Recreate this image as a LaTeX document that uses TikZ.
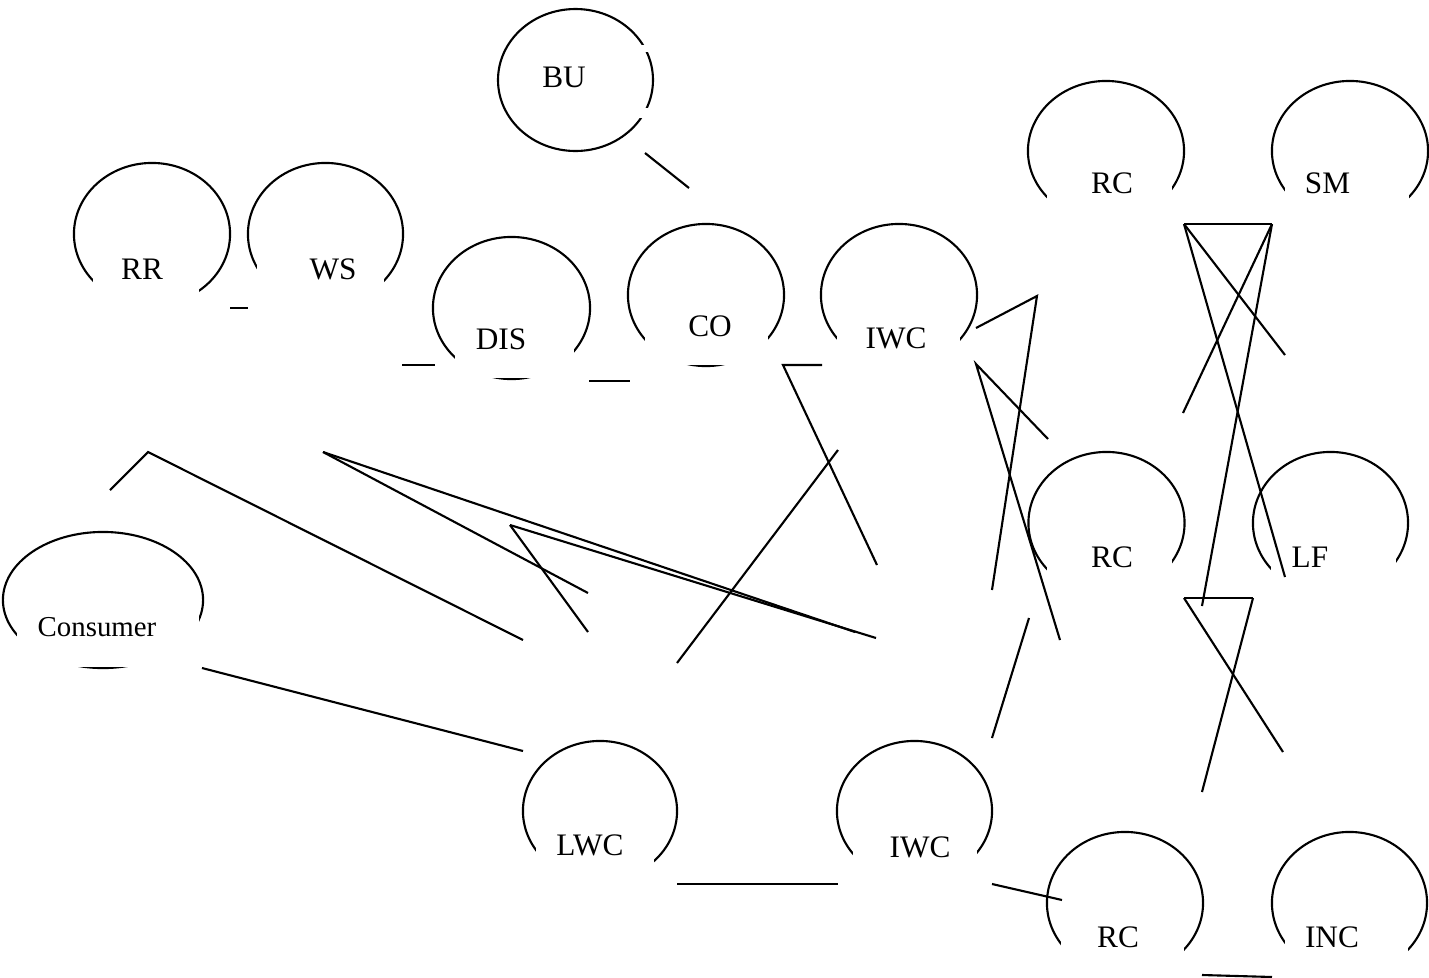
\documentclass[tikz,border=0pt]{standalone}
\usepackage{fontspec}
\setmainfont{Liberation Serif}
\usetikzlibrary{shapes.geometric}
\begin{document}
\begin{tikzpicture}[x=0.01cm,y=-0.01cm,
  ell/.style={draw, ellipse, inner sep=0pt, outer sep=0pt, line width=0.6pt},
  lbl/.style={inner sep=0pt, font=\fontsize{8.9}{10}\selectfont},
  conn/.style={line width=0.6pt},
  mask/.style={fill=white, draw=none}]
\useasboundingbox (0,0) rectangle (1429,978);
% name, cx, cy, rx, ry, xl, xr, yb
\newcommand\openell[8]{%
  \node[ell, minimum width=#4*0.02cm, minimum height=#5*0.02cm] (#1) at (#2,#3) {};
  \path[mask] (#6,#3) rectangle (#7,#8);}
% BU (closed, two small gaps)
\node[ell, minimum width=155*0.01cm, minimum height=142*0.01cm] (bu) at (575.5,80) {};
\path[mask] (636,45) rectangle (656,52);
\path[mask] (632,108) rectangle (656,118);
\openell{rr}{152}{234}{78}{71}{93}{199}{310}
\openell{ws}{325.5}{234}{77.5}{71}{257}{384}{310}
\openell{dis}{511.5}{308}{78.5}{71}{455}{574}{378.2}
\openell{co}{706}{295}{78}{71}{645}{768}{365.3}
\openell{iwca}{899}{295}{78}{71}{837}{960}{370}
\openell{rca}{1106}{151}{78}{70}{1047}{1172}{225}
\openell{sm}{1350}{151}{78}{70}{1285}{1409}{225}
\openell{rcb}{1106.5}{523}{78}{71}{1047}{1172}{597}
\openell{lf}{1330.5}{523}{77.5}{71}{1271}{1396}{597}
\openell{cons}{103}{600}{100}{68}{17}{199}{667.2}
\openell{lwc}{600}{811}{77}{70}{536}{654}{885}
\openell{iwcb}{914.5}{811}{77.5}{70}{853}{977}{885}
\openell{rcc}{1125}{903}{78}{71}{1061}{1184}{978}
\openell{inc}{1349.5}{903}{77.5}{71}{1285}{1408}{978}
% labels
\node[lbl] (bu-l) at (564,77.5) {BU};
\node[lbl] (rr-l) at (142,269) {RR};
\node[lbl] (ws-l) at (333,269) {WS};
\node[lbl] (dis-l) at (501,339) {DIS};
\node[lbl] (co-l) at (710,326) {CO};
\node[lbl] (iwca-l) at (896,338) {IWC};
\node[lbl] (rca-l) at (1112,183) {RC};
\node[lbl] (sm-l) at (1327.5,183) {SM};
\node[lbl] (rcb-l) at (1112,557) {RC};
\node[lbl] (lf-l) at (1310,557) {LF};
\node[lbl, font=\fontsize{8.2}{10}\selectfont] (cons-l) at (97,627.5) {Consumer};
\node[lbl] (lwc-l) at (590,845) {LWC};
\node[lbl] (iwcb-l) at (920,847.5) {IWC};
\node[lbl] (rcc-l) at (1118,937.5) {RC};
\node[lbl] (inc-l) at (1332,937.5) {INC};
% connector end points
\coordinate (a1) at (645,153); \coordinate (a2) at (689,188);
\coordinate (b1) at (230,308); \coordinate (b2) at (248,308);
\coordinate (c1) at (402,365); \coordinate (c2) at (435,365);
\coordinate (d1) at (589,381); \coordinate (d2) at (630,381);
\coordinate (e1) at (822,365); \coordinate (e2) at (783,365); \coordinate (e3) at (877,565);
\coordinate (f1) at (976,328); \coordinate (f2) at (1037,296); \coordinate (f3) at (992,590);
\coordinate (g1) at (1048,439); \coordinate (g2) at (976,364); \coordinate (g3) at (1060,640);
\coordinate (h1) at (1029,618); \coordinate (h2) at (992,738);
\coordinate (i1) at (1184,224); \coordinate (i2) at (1272,224);
\coordinate (i3) at (1285,355); \coordinate (i4) at (1285,577);
\coordinate (i5) at (1183,413); \coordinate (i6) at (1202,606);
\coordinate (j1) at (1184,598); \coordinate (j2) at (1253,598);
\coordinate (j3) at (1283,752); \coordinate (j4) at (1202,792);
\coordinate (k1) at (110,490); \coordinate (k2) at (148,452); \coordinate (k3) at (523,640);
\coordinate (m1) at (323,452); \coordinate (m2) at (588,593); \coordinate (m3) at (855,632);
\coordinate (n1) at (510,525); \coordinate (n2) at (588,632); \coordinate (n3) at (876,638);
\coordinate (o1) at (677,663); \coordinate (o2) at (838,450);
\coordinate (p1) at (202,668); \coordinate (p2) at (523,751);
\coordinate (q1) at (677,884); \coordinate (q2) at (838,884);
\coordinate (r1) at (992,884); \coordinate (r2) at (1062,900);
\coordinate (s1) at (1202,975); \coordinate (s2) at (1272,977);
% connectors
\draw[conn] (a1) -- (a2);
\draw[conn] (b1) -- (b2);
\draw[conn] (c1) -- (c2);
\draw[conn] (d1) -- (d2);
\draw[conn] (e1) -- (e2) -- (e3);
\draw[conn] (f1) -- (f2) -- (f3);
\draw[conn] (g1) -- (g2) -- (g3);
\draw[conn] (h1) -- (h2);
\draw[conn] (i1) -- (i2);
\draw[conn] (i1) -- (i3);
\draw[conn] (i1) -- (i4);
\draw[conn] (i2) -- (i5);
\draw[conn] (i2) -- (i6);
\draw[conn] (j1) -- (j2);
\draw[conn] (j1) -- (j3);
\draw[conn] (j2) -- (j4);
\draw[conn] (k1) -- (k2) -- (k3);
\draw[conn] (m1) -- (m2);
\draw[conn] (m1) -- (m3);
\draw[conn] (n1) -- (n2);
\draw[conn] (n1) -- (n3);
\draw[conn] (o1) -- (o2);
\draw[conn] (p1) -- (p2);
\draw[conn] (q1) -- (q2);
\draw[conn] (r1) -- (r2);
\draw[conn] (s1) -- (s2);
\end{tikzpicture}
\end{document}
